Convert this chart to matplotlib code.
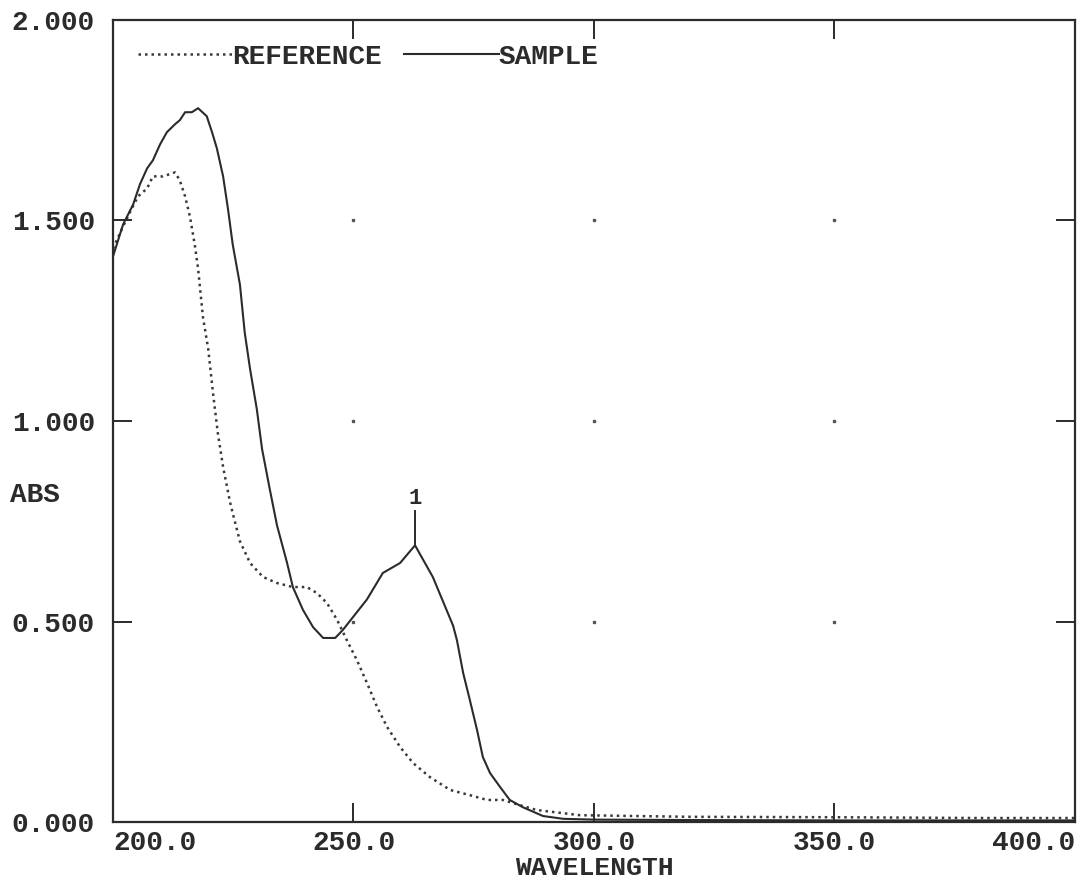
import numpy as np
import matplotlib
matplotlib.use("Agg")
import matplotlib.pyplot as plt

# Spectrum data
sample_nm = [200.0, 202.1, 204.2, 205.6, 207.1, 208.3, 209.8, 211.2, 212.9, 213.9,
             215.0, 216.4, 217.7, 219.5, 220.6, 221.6, 222.9, 223.9, 224.9, 226.4,
             227.4, 228.5, 229.9, 231.0, 232.6, 234.1, 236.2, 237.4, 239.5, 241.6,
             243.7, 246.2, 247.8, 249.9, 252.8, 256.1, 259.7, 262.8, 266.5, 270.7,
             271.5, 272.8, 274.2, 275.7, 276.9, 278.4, 280.5, 282.5, 285.2, 289.4,
             293.6, 300.0, 320.0, 350.0, 380.0, 400.0]
sample_abs = [1.41, 1.49, 1.54, 1.59, 1.63, 1.65, 1.69, 1.72, 1.74, 1.75,
              1.77, 1.77, 1.78, 1.76, 1.72, 1.68, 1.61, 1.53, 1.44, 1.34,
              1.22, 1.13, 1.03, 0.93, 0.83, 0.74, 0.646, 0.586, 0.529, 0.486,
              0.459, 0.459, 0.479, 0.511, 0.555, 0.621, 0.646, 0.69, 0.611, 0.49,
              0.454, 0.372, 0.304, 0.229, 0.162, 0.122, 0.087, 0.055, 0.037, 0.015,
              0.008, 0.006, 0.005, 0.004, 0.004, 0.004]

ref_nm = [200.0, 201.9, 203.5, 205.2, 207.1, 208.3, 210.4, 212.9, 213.9, 215.0,
          216.0, 217.0, 217.7, 218.7, 219.8, 220.8, 221.8, 222.9, 224.3, 224.9,
          226.4, 228.5, 231.2, 234.1, 237.4, 240.3, 242.4, 244.5, 246.6, 248.6,
          250.7, 252.8, 254.9, 257.0, 259.7, 262.4, 265.9, 270.1, 274.2, 277.8,
          281.1, 284.6, 288.1, 293.6, 297.1, 320.0, 350.0, 380.0, 400.0]
ref_abs = [1.43, 1.48, 1.52, 1.56, 1.58, 1.61, 1.61, 1.62, 1.60, 1.56,
           1.51, 1.44, 1.38, 1.26, 1.18, 1.07, 0.97, 0.885, 0.80, 0.77,
           0.70, 0.646, 0.611, 0.596, 0.586, 0.586, 0.571, 0.546, 0.504, 0.454,
           0.404, 0.347, 0.287, 0.237, 0.187, 0.147, 0.112, 0.080, 0.067, 0.055,
           0.055, 0.042, 0.030, 0.022, 0.017, 0.013, 0.012, 0.010, 0.010]

x_ticks = [200.0, 250.0, 300.0, 350.0, 400.0]
y_ticks = [0.0, 0.5, 1.0, 1.5, 2.0]
x_labels = ["200.0", "250.0", "300.0", "350.0", "400.0"]
y_labels = ["0.000", "0.500", "1.000", "1.500", "2.000"]

font = "Liberation Mono"
fontsize = 20
ink = "#2b2b2b"

fig = plt.figure(figsize=(10.83, 8.84), dpi=100)
ax = fig.add_axes([0.1043, 0.0701, 0.8883, 0.9073])

# Curves
ref_line, = ax.plot(ref_nm, ref_abs, color="#3a3a3a", linestyle=(0, (1, 1.6)),
                    linewidth=1.8, label="REFERENCE")
smp_line, = ax.plot(sample_nm, sample_abs, color=ink, linestyle="-",
                    linewidth=1.5, label="SAMPLE")

# Grid dots at the inner tick crossings
gx, gy = np.meshgrid(x_ticks[1:-1], y_ticks[1:-1])
ax.plot(gx.ravel(), gy.ravel(), linestyle="none", marker="s",
        markersize=1.6, color="#555555")

# Peak marker
sx = np.array(sample_nm)
sy = np.array(sample_abs)
mask = sx > 250
i_peak = np.argmax(sy[mask])
px, py = sx[mask][i_peak], sy[mask][i_peak]
ax.plot([px, px], [py, py + 0.085], color=ink, linewidth=1.4)
ax.text(px, py + 0.09, "1", ha="center", va="bottom", fontsize=16,
        family=font, weight="bold", color=ink)

# Axes formatting
ax.set_xlim(200, 400)
ax.set_ylim(0, 2)
ax.set_xticks(x_ticks)
ax.set_yticks(y_ticks)
ax.set_xticklabels(x_labels)
ax.set_yticklabels(y_labels)
for lab in ax.get_xticklabels() + ax.get_yticklabels():
    lab.set_family(font)
    lab.set_fontsize(fontsize)
    lab.set_weight("bold")
    lab.set_color(ink)
xl = ax.get_xticklabels()
xl[0].set_ha("left")
xl[-1].set_ha("right")

ax.tick_params(axis="both", direction="in", length=14, width=1.4,
               color=ink, top=True, right=True)
ax.tick_params(axis="y", pad=13)
ax.tick_params(axis="x", pad=6)
for sp in ax.spines.values():
    sp.set_linewidth(1.6)
    sp.set_color(ink)

ax.set_xlabel("WAVELENGTH", family=font, fontsize=19, weight="bold",
              color=ink, labelpad=0)
ax.set_ylabel("ABS", family=font, fontsize=fontsize, weight="bold",
              color=ink, rotation=0, ha="left", va="center")
ax.yaxis.set_label_coords(-0.107, 0.408)

# Legend across the top
ax.legend(handles=[ref_line, smp_line], loc="center left",
          bbox_to_anchor=(0.026, 0.954), ncol=2, frameon=False,
          borderpad=0, borderaxespad=0, handlelength=3.4, handletextpad=0,
          columnspacing=0.8,
          prop={"family": font, "size": fontsize, "weight": "bold"},
          labelcolor=ink)

fig.savefig("out.png", dpi=100, facecolor="white")
